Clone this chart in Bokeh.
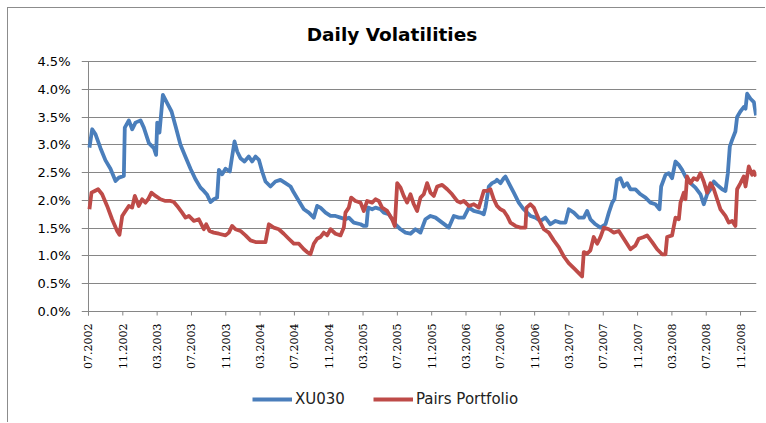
from bokeh.plotting import figure
from bokeh.models import Range1d, FixedTicker, Legend, LegendItem, ColumnDataSource
from bokeh.embed import file_html
from bokeh.resources import INLINE
import math

title_text = "Daily Volatilities"
series_names = ["XU030", "Pairs Portfolio"]

# x positions are months since 07.2002
x_tick_months = [0, 4, 8, 12, 16, 20, 24, 28, 32, 36, 40, 44, 48, 52, 56, 60, 64, 68, 72, 76]
x_tick_labels = ["07.2002", "11.2002", "03.2003", "07.2003", "11.2003", "03.2004", "07.2004",
                 "11.2004", "03.2005", "07.2005", "11.2005", "03.2006", "07.2006", "11.2006",
                 "03.2007", "07.2007", "11.2007", "03.2008", "07.2008", "11.2008"]
y_ticks = [0.0, 0.5, 1.0, 1.5, 2.0, 2.5, 3.0, 3.5, 4.0, 4.5]
y_tick_labels = ["0.0%", "0.5%", "1.0%", "1.5%", "2.0%", "2.5%", "3.0%", "3.5%", "4.0%", "4.5%"]

xu030_month = [0.11, 0.43, 0.82, 1.40, 1.98, 2.56, 3.15, 3.54, 4.12, 4.23, 4.70, 5.09, 5.48, 6.06, 6.45,
               7.04, 7.62, 7.88, 8.01, 8.27, 8.67, 9.17, 9.68, 10.14, 10.72, 11.31, 11.89, 12.47, 13.05,
               13.44, 13.83, 14.22, 14.60, 14.99, 15.20, 15.58, 15.97,
               16.47, 16.74, 17.02, 17.33, 17.71, 18.18, 18.68, 19.07, 19.47, 19.86, 20.24, 20.63, 21.21,
               21.79, 22.37, 22.96, 23.55, 23.93, 24.52, 25.10, 25.68, 26.26, 26.65, 27.03, 27.63, 28.21,
               28.79, 29.37, 29.95, 30.34, 30.92, 31.71,
               32.09, 32.40, 32.59, 33.06, 33.45, 34.03, 34.42, 35.00, 35.39, 35.78, 36.37, 36.95, 37.53,
               38.11, 38.69, 39.27, 39.86, 40.45, 41.22, 42.00, 42.58, 43.16, 43.74, 44.33, 44.91, 45.69,
               46.07, 46.27, 46.66, 47.04, 47.43,
               47.61, 48.02, 48.41, 48.60, 48.99, 49.57, 50.15, 50.73, 51.12, 51.51, 52.10, 52.68, 53.26,
               53.84, 54.43, 55.01, 55.59, 55.98, 56.57, 57.15, 57.73, 58.12, 58.50, 59.09, 59.67, 60.26,
               60.65, 61.04, 61.30, 61.61, 62.00, 62.39, 62.78, 63.17,
               63.75, 64.34, 64.92, 65.50, 66.08, 66.55, 66.75, 67.25, 67.63, 68.02, 68.42, 68.80, 69.19,
               69.58, 70.16, 70.74, 71.33, 71.71, 72.10, 72.50, 72.89, 73.27, 73.86, 74.24, 74.52, 74.75,
               75.02, 75.40, 75.60, 75.98, 76.37, 76.58, 76.77, 77.16, 77.55, 77.81]
xu030_vol = [2.95, 3.28, 3.19, 2.94, 2.72, 2.57, 2.35, 2.41, 2.44, 3.31, 3.44, 3.28, 3.40, 3.44, 3.31,
             3.03, 2.94, 2.82, 3.40, 3.22, 3.90, 3.75, 3.60, 3.34, 3.00, 2.78, 2.57, 2.38, 2.23,
             2.17, 2.10, 1.97, 2.02, 2.05, 2.55, 2.47, 2.57,
             2.52, 2.79, 3.06, 2.88, 2.76, 2.70, 2.79, 2.70, 2.79, 2.73, 2.52, 2.34, 2.25,
             2.34, 2.37, 2.31, 2.25, 2.14, 1.99, 1.84, 1.78, 1.69, 1.90, 1.87, 1.78, 1.72,
             1.72, 1.69, 1.66, 1.69, 1.60, 1.57,
             1.54, 1.54, 1.87, 1.84, 1.87, 1.84, 1.78, 1.75, 1.66, 1.57, 1.48, 1.42, 1.40,
             1.48, 1.42, 1.66, 1.72, 1.69, 1.60, 1.51, 1.72, 1.69, 1.69, 1.87, 1.81, 1.78,
             1.75, 1.87, 2.25, 2.31, 2.34,
             2.37, 2.31, 2.40, 2.43, 2.31, 2.14, 1.96, 1.84, 1.78, 1.72, 1.69, 1.63, 1.69,
             1.57, 1.63, 1.60, 1.60, 1.84, 1.78, 1.69, 1.69, 1.81, 1.66, 1.57, 1.51, 1.57,
             1.78, 1.96, 2.02, 2.37, 2.40, 2.25, 2.31, 2.20,
             2.20, 2.11, 2.05, 1.96, 1.93, 1.84, 2.25, 2.46, 2.49, 2.40, 2.70, 2.64, 2.55,
             2.43, 2.31, 2.23, 2.11, 1.93, 2.11, 2.20, 2.34, 2.28, 2.20, 2.17, 2.49, 2.97,
             3.09, 3.24, 3.50, 3.60, 3.68, 3.65, 3.92, 3.83, 3.77, 3.53]

pairs_month = [0.11, 0.35, 0.73, 1.12, 1.59, 2.17, 2.75, 3.34, 3.61, 3.93, 4.31, 4.70, 5.09, 5.40, 5.86,
               6.25, 6.64, 6.95, 7.34, 7.81, 8.39, 8.97, 9.56, 9.94, 10.33, 10.91, 11.31, 11.70, 12.28,
               12.86, 13.44, 13.72, 14.10, 14.60, 15.20, 15.97,
               16.36, 16.74, 17.13, 17.71, 18.30, 18.88, 19.47, 20.05, 20.63, 21.02, 21.60, 22.18, 22.76,
               23.34, 23.93, 24.52, 25.10, 25.48, 25.87, 26.26, 26.65, 27.03, 27.42, 27.82, 28.21, 28.79,
               29.37, 29.76, 29.95, 30.34, 30.61, 31.11, 31.71,
               32.09, 32.48, 33.06, 33.45, 33.84, 34.22, 34.81, 35.39, 35.70, 35.98, 36.37, 36.74, 37.14,
               37.53, 37.92, 38.30, 38.69, 39.08, 39.47, 39.86, 40.25, 40.64, 41.22, 41.81, 42.38, 42.96,
               43.35, 43.74, 44.33, 44.91, 45.49, 46.07, 46.46, 46.85, 47.24, 47.43,
               47.61, 48.02, 48.41, 48.80, 49.18, 49.76, 50.35, 50.93, 51.05, 51.51, 51.90, 52.49, 53.07,
               53.65, 54.23, 54.81, 55.40, 55.97, 56.57, 57.15, 57.53, 57.73, 58.12, 58.50, 58.89, 59.29,
               59.67, 60.07, 60.65, 61.23, 61.81, 62.39, 63.17,
               63.75, 64.14, 64.73, 65.11, 65.70, 66.28, 66.86, 67.25, 67.44, 68.02, 68.42, 68.81, 69.00,
               69.39, 69.58, 69.77, 70.16, 70.55, 70.94, 71.33, 71.71, 72.10, 72.50, 72.89, 73.27, 73.66,
               74.24, 74.63, 75.02, 75.40, 75.60, 75.99, 76.37, 76.58, 76.96, 77.35, 77.55, 77.81]
pairs_vol = [1.84, 2.14, 2.17, 2.20, 2.11, 1.90, 1.66, 1.45, 1.38, 1.72, 1.81, 1.90, 1.87, 2.08, 1.90,
             2.02, 1.96, 2.02, 2.14, 2.08, 2.02, 1.99, 1.99, 1.97, 1.90, 1.78, 1.69, 1.72, 1.63,
             1.66, 1.48, 1.57, 1.45, 1.42, 1.40, 1.37,
             1.42, 1.54, 1.48, 1.45, 1.37, 1.28, 1.25, 1.25, 1.25, 1.57, 1.51, 1.48, 1.40,
             1.31, 1.22, 1.22, 1.12, 1.07, 1.03, 1.22, 1.31, 1.34, 1.42, 1.37, 1.48, 1.40,
             1.37, 1.51, 1.78, 1.87, 2.05, 1.99, 1.96,
             1.81, 1.99, 1.96, 2.02, 1.99, 1.87, 1.81, 1.66, 1.54, 2.31, 2.23, 2.08, 1.96,
             2.11, 1.93, 1.81, 2.05, 2.11, 2.31, 2.14, 2.08, 2.25, 2.28, 2.20, 2.11, 1.99,
             1.96, 1.99, 1.90, 1.93, 1.87, 2.17, 2.17, 2.20, 2.02, 1.96,
             1.90, 1.84, 1.81, 1.72, 1.60, 1.54, 1.51, 1.51, 1.87, 1.93, 1.87, 1.66, 1.48,
             1.42, 1.28, 1.16, 0.99, 0.87, 0.78, 0.69, 0.63, 1.07, 1.04, 1.10, 1.34, 1.22,
             1.34, 1.51, 1.48, 1.42, 1.45, 1.31, 1.12,
             1.19, 1.31, 1.34, 1.37, 1.25, 1.12, 1.03, 1.03, 1.34, 1.37, 1.69, 1.66, 1.96,
             2.14, 2.02, 2.43, 2.31, 2.40, 2.37, 2.49, 2.34, 2.14, 2.31, 2.20, 2.02, 1.84,
             1.72, 1.60, 1.63, 1.54, 2.20, 2.31, 2.43, 2.25, 2.61, 2.46, 2.52, 2.43]

BLUE = "#4A7EBB"
RED = "#BE4B48"
GRID = "#868686"

# the frame reaches above 4.5% (title), below 0% (date labels, legend)
# and slightly left of the value axis
PX_PER_PCT = 250 / 4.5
PX_PER_MONTH = 8.58
Y_BOTTOM = -108 / PX_PER_PCT
Y_TOP = 4.5 + 47 / PX_PER_PCT
X_LEFT = -7 / PX_PER_MONTH
TICK = 4 / PX_PER_PCT
TITLE_X = 303.5 / PX_PER_MONTH
TITLE_Y = 277.5 / PX_PER_PCT

p = figure(width=758, height=415, output_backend="svg", toolbar_location=None,
           x_axis_location=None,
           x_range=Range1d(X_LEFT, 77.86), y_range=Range1d(Y_BOTTOM, Y_TOP),
           min_border_left=73, min_border_right=10, min_border_top=6, min_border_bottom=4)
p.styles = {"margin-left": "7px", "margin-top": "7px",
            "border-left": "1px solid #8c8c8c", "border-top": "1px solid #8c8c8c"}
p.outline_line_color = None
p.background_fill_color = "white"
p.border_fill_color = "white"

# value axis: labels from the axis, line drawn at month 0
p.yaxis.ticker = FixedTicker(ticks=y_ticks)
p.yaxis.bounds = (0, 4.5)
p.yaxis.major_label_overrides = {v: lab for v, lab in zip(y_ticks, y_tick_labels)}
p.yaxis.major_label_text_font = "DejaVu Sans"
p.yaxis.major_label_text_font_size = "13px"
p.yaxis.major_label_text_color = "black"
p.yaxis.axis_line_color = None
p.yaxis.major_tick_line_color = None
p.yaxis.major_tick_in = 0
p.yaxis.major_tick_out = 0
p.yaxis.minor_tick_line_color = None
p.yaxis.major_label_standoff = 11

p.xgrid.visible = False
p.ygrid.ticker = FixedTicker(ticks=y_ticks)
p.ygrid.grid_line_color = GRID
p.ygrid.grid_line_width = 1

p.segment(x0=[x_tick_months[0]], y0=[-TICK], x1=[x_tick_months[0]], y1=[y_ticks[-1]],
          line_color=GRID, line_width=1)

# chart title
p.text(x=[TITLE_X], y=[TITLE_Y], text=[title_text], text_align="center", text_baseline="middle",
       text_font={"value": "DejaVu Sans"}, text_font_style="bold", text_font_size="18.5px",
       text_color="black")

# date axis: tick marks and rotated labels under the 0% line
tick_src = ColumnDataSource(dict(m=x_tick_months, lab=x_tick_labels,
                                 y0=[0.0] * len(x_tick_months),
                                 y1=[-TICK] * len(x_tick_months),
                                 ylab=[-12 / PX_PER_PCT] * len(x_tick_months)))
p.segment(x0="m", y0="y0", x1="m", y1="y1", source=tick_src, line_color=GRID, line_width=1)
p.text(x="m", y="ylab", text="lab", source=tick_src, angle=math.pi / 2,
       text_align="right", text_baseline="middle", text_font={"value": "DejaVu Serif"},
       text_font_size="11px", text_color="black")

r1 = p.line(xu030_month, xu030_vol, line_color=BLUE, line_width=3.8, line_join="round")
r2 = p.line(pairs_month, pairs_vol, line_color=RED, line_width=3.8, line_join="round")

legend = Legend(items=[LegendItem(label=series_names[0], renderers=[r1]),
                       LegendItem(label=series_names[1], renderers=[r2])],
                location=(171, 10), orientation="horizontal",
                glyph_width=40, glyph_height=14, label_height=20, label_standoff=3, spacing=28,
                padding=0, margin=0, border_line_color=None, background_fill_alpha=0,
                label_text_font="DejaVu Sans", label_text_font_size="15px", label_text_color="#222222")
p.add_layout(legend)

open("out.html", "w").write(file_html(p, INLINE))
